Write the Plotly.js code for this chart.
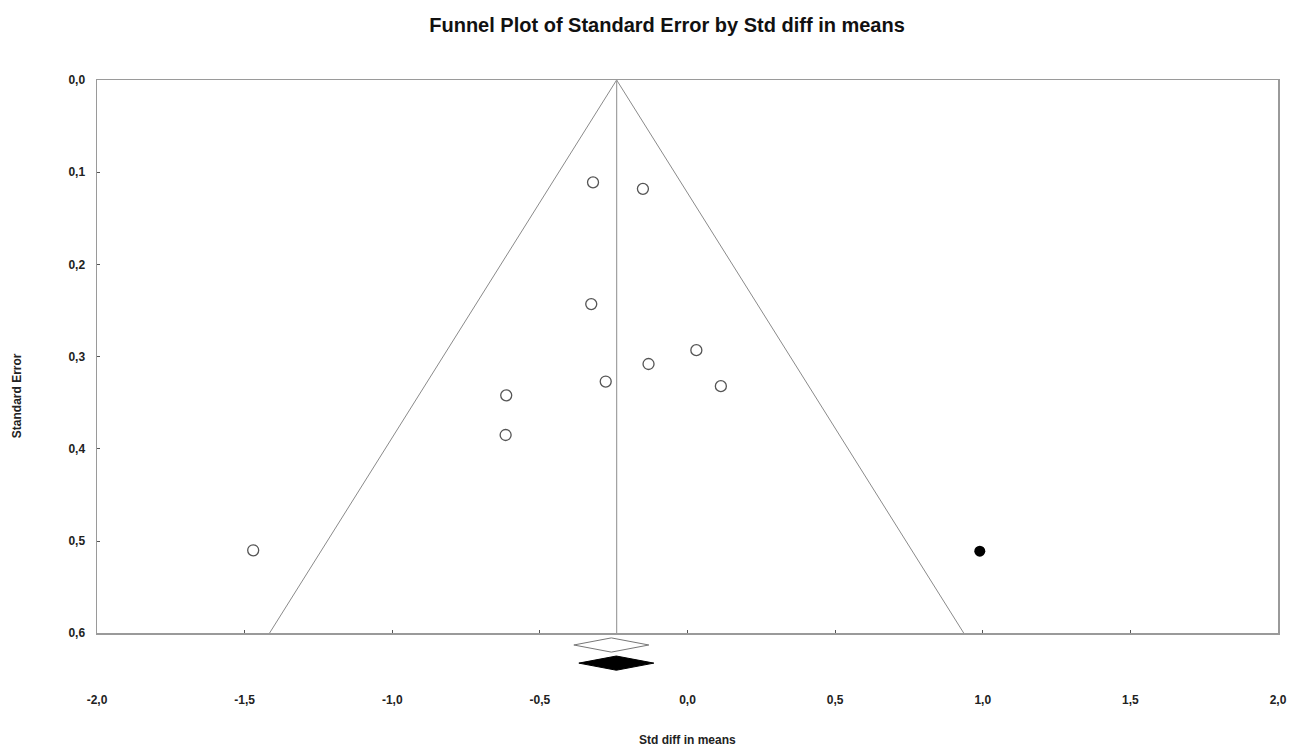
<!DOCTYPE html>
<html>
<head>
<meta charset="utf-8">
<script src="https://cdn.plot.ly/plotly-3.0.1.min.js"></script>
<style>html,body{margin:0;padding:0;background:#fff;}#chart{width:1289px;height:746px;}</style>
</head>
<body>
<div id="chart"></div>
<script>
// ---- data ----
const effects    = [-0.320, -0.151, -0.326, 0.030, -0.132, -0.277, 0.113, -0.614, -0.616, -1.471];
const stdErrors  = [0.111, 0.118, 0.243, 0.293, 0.308, 0.327, 0.332, 0.342, 0.385, 0.510];
const imputedEffects   = [0.990];
const imputedStdErrors = [0.511];
const funnelCenter = -0.240;
const funnelMaxSE  = 0.6;
const summaryLabels = ['Observed', 'Adjusted'];
const summaryEst    = [-0.258, -0.241];
const summaryLower  = [-0.385, -0.368];
const summaryUpper  = [-0.131, -0.114];
const xTickVals   = [-2, -1.5, -1, -0.5, 0, 0.5, 1, 1.5, 2];
const xTickLabels = ['-2,0', '-1,5', '-1,0', '-0,5', '0,0', '0,5', '1,0', '1,5', '2,0'];
const yTickVals   = [0, 0.1, 0.2, 0.3, 0.4, 0.5, 0.6];
const yTickLabels = ['0,0', '0,1', '0,2', '0,3', '0,4', '0,5', '0,6'];

// ---- style ----
const FONT = 'Liberation Sans, Arial, sans-serif';
const TXT = '#222';
const FRAME = '#9a9a9a';

const z = 1.96;
const funnelX = [funnelCenter - z * funnelMaxSE, funnelCenter, funnelCenter + z * funnelMaxSE];
const funnelY = [funnelMaxSE, 0, funnelMaxSE];

// diamond rows on the lower strip axis (y2, 0 top .. 1 bottom)
const rowCenter = [0.24, 0.75];
const rowHalf = [0.2, 0.2];
const diamondFill = ['#ffffff', '#000000'];
const diamondLine = ['#777777', '#000000'];

const traces = [
  {x: funnelX, y: funnelY, type: 'scatter', mode: 'lines',
   line: {color: '#8a8a8a', width: 1}, hoverinfo: 'skip', showlegend: false},
  {x: [funnelCenter, funnelCenter], y: [0, funnelMaxSE], type: 'scatter', mode: 'lines',
   line: {color: '#a0a0a0', width: 1.2}, hoverinfo: 'skip', showlegend: false},
  {x: effects, y: stdErrors, type: 'scatter', mode: 'markers', name: 'Observed studies',
   marker: {symbol: 'circle-open', size: 11, color: '#555', line: {width: 1.3, color: '#555'}},
   showlegend: false},
  {x: imputedEffects, y: imputedStdErrors, type: 'scatter', mode: 'markers', name: 'Imputed studies',
   marker: {symbol: 'circle', size: 11, color: '#000'}, showlegend: false}
];

summaryLabels.forEach((lab, i) => {
  const c = rowCenter[i], h = rowHalf[i];
  traces.push({
    x: [summaryLower[i], summaryEst[i], summaryUpper[i], summaryEst[i], summaryLower[i]],
    y: [c, c - h, c, c + h, c],
    xaxis: 'x', yaxis: 'y2', type: 'scatter', mode: 'lines', fill: 'toself',
    fillcolor: diamondFill[i], line: {color: diamondLine[i], width: 1},
    name: lab, showlegend: false
  });
});

const layout = {
  width: 1289, height: 746,
  margin: {l: 97, r: 11, t: 80, b: 74},
  paper_bgcolor: '#fff', plot_bgcolor: '#fff',
  separators: ',.',
  font: {family: FONT, color: TXT, size: 12},
  title: {text: '<b>Funnel Plot of Standard Error by Std diff in means</b>',
          font: {family: FONT, size: 20, color: '#111'},
          x: 0.5175, xanchor: 'center', y: 0.967, yanchor: 'middle'},
  xaxis: {range: [-2, 2], tickmode: 'array', tickvals: xTickVals, ticktext: xTickLabels,
          showgrid: false, zeroline: false, showline: true, mirror: true,
          linecolor: FRAME, linewidth: 1.5, ticks: 'inside', ticklen: 3, tickcolor: '#555',
          anchor: 'y', ticklabelstandoff: 55,
          tickfont: {family: FONT, size: 12, color: TXT, weight: 'bold'}},
  yaxis: {range: [0.6, 0], tickmode: 'array', tickvals: yTickVals, ticktext: yTickLabels,
          domain: [0.0654, 1],
          showgrid: false, zeroline: false, showline: true, mirror: true,
          linecolor: FRAME, linewidth: 1.5, ticks: 'inside', ticklen: 3, tickcolor: '#555',
          ticklabelstandoff: 8,
          tickfont: {family: FONT, size: 12, color: TXT, weight: 'bold'}},
  yaxis2: {domain: [0, 0.06], range: [1, 0], visible: false, anchor: 'x',
           showgrid: false, zeroline: false, fixedrange: true},
  annotations: [
    {text: '<b>Std diff in means</b>', xref: 'paper', yref: 'paper',
     x: 0.5, y: -0.1149, xanchor: 'center', yanchor: 'middle', showarrow: false,
     font: {family: FONT, size: 12, color: TXT}},
    {text: '<b>Standard Error</b>', xref: 'paper', yref: 'paper', textangle: -90,
     x: -0.0677, y: 0.466, xanchor: 'center', yanchor: 'middle', showarrow: false,
     font: {family: FONT, size: 12, color: TXT}}
  ]
};

Plotly.newPlot('chart', traces, layout, {displayModeBar: false, staticPlot: true});
</script>
</body>
</html>
